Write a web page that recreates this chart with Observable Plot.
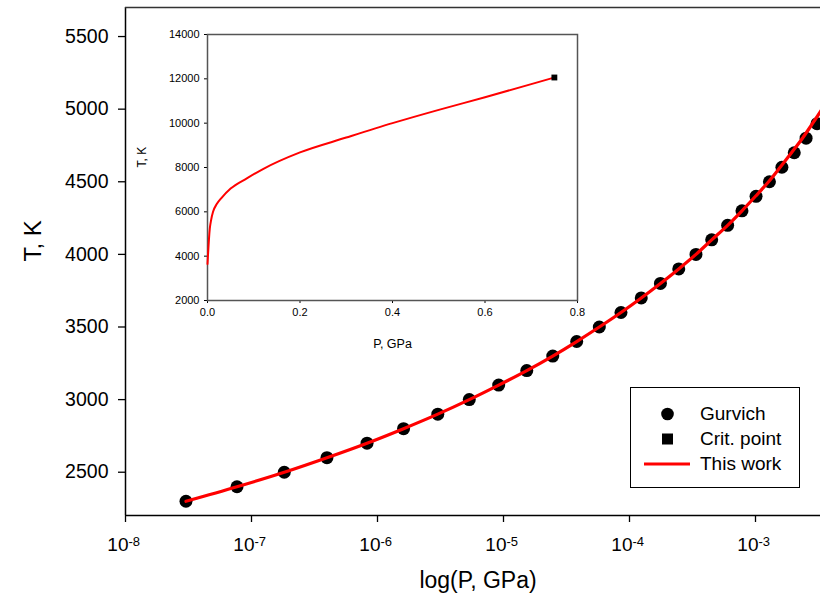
<!DOCTYPE html>
<html>
<head>
<meta charset="utf-8">
<script src="https://cdn.jsdelivr.net/npm/d3@7"></script>
<script src="https://cdn.jsdelivr.net/npm/@observablehq/plot@0.6"></script>
<style>
  html, body { margin: 0; padding: 0; background: #fff; }
  #wrap { position: relative; width: 820px; height: 602px; overflow: hidden; font-family: "Liberation Sans", Arial, sans-serif; }
  #wrap svg { position: absolute; }
  #legend { position: absolute; left: 630px; top: 387px; width: 170px; height: 101px; border: 1.5px solid #000; box-sizing: border-box; background: #fff; }
  .lg-item { position: absolute; left: 0; height: 24px; width: 170px; font-size: 19px; line-height: 24px; }
  .lg-item span { position: absolute; left: 69px; top: 0; white-space: nowrap; }
  .lg-item svg { position: absolute; left: 24px; top: 0; }
</style>
</head>
<body>
<div id="wrap"></div>
<script>
// ---- Main chart data (Gurvich points) ----
const gurvichP = [3.02e-8, 7.67e-8, 1.82e-7, 3.97e-7, 8.26e-7, 1.61e-6, 3.01e-6, 5.35e-6, 9.16e-6, 1.53e-5,
  2.46e-5, 3.81e-5, 5.76e-5, 8.56e-5, 1.24e-4, 1.76e-4, 2.46e-4, 3.37e-4, 4.49e-4, 6.01e-4,
  7.81e-4, 1.01e-3, 1.29e-3, 1.62e-3, 2.03e-3, 2.52e-3, 3.08e-3];
const gurvichT = [2300, 2400, 2500, 2600, 2700, 2800, 2900, 3000, 3100, 3200,
  3300, 3400, 3500, 3600, 3700, 3800, 3900, 4000, 4100, 4200,
  4300, 4400, 4500, 4600, 4700, 4800, 4900];

// ---- Main chart data (This work line) ----
const workP = [3.02e-8, 7.67e-8, 1.82e-7, 3.97e-7, 8.26e-7, 1.61e-6, 3.01e-6, 5.35e-6, 9.16e-6, 1.53e-5,
  2.46e-5, 3.81e-5, 5.76e-5, 8.56e-5, 1.24e-4, 1.76e-4, 2.46e-4, 3.37e-4, 4.49e-4, 6.01e-4,
  7.81e-4, 1.0e-3, 1.27e-3, 1.57e-3, 1.93e-3, 2.36e-3, 2.83e-3, 3.37e-3, 3.97e-3];
const workT = [2300, 2400, 2500, 2600, 2700, 2800, 2900, 3000, 3100, 3200,
  3300, 3400, 3500, 3600, 3700, 3800, 3900, 4000, 4100, 4200,
  4300, 4400, 4500, 4600, 4700, 4800, 4900, 5000, 5100];

// ---- Main axes ----
const xDomain = [1e-8, 3.28e-3];
const yDomain = [2202, 5700];
const xTicks = [1e-8, 1e-7, 1e-6, 1e-5, 1e-4, 1e-3];
const xTickBase = ["10", "10", "10", "10", "10", "10"];
const xTickExp = ["-8", "-7", "-6", "-5", "-4", "-3"];
const yTicks = [2500, 3000, 3500, 4000, 4500, 5000, 5500];
const xTitle = "log(P, GPa)";
const yTitle = "T, K";

// ---- Inset data ----
const insetP = [0, 0.005, 0.008, 0.012, 0.02, 0.03, 0.05, 0.085, 0.12, 0.2, 0.3, 0.4, 0.5, 0.6, 0.7, 0.75];
const insetT = [3650, 5250, 5650, 6000, 6350, 6620, 7050, 7510, 7930, 8680, 9350, 10000, 10600, 11170, 11760, 12060];
const critP = [0.75];
const critT = [12060];
const insetXTicks = [0, 0.2, 0.4, 0.6, 0.8];
const insetYTicks = [2000, 4000, 6000, 8000, 10000, 12000, 14000];
const insetXDomain = [0, 0.8];
const insetYDomain = [2000, 14000];
const insetXTitle = "P, GPa";
const insetYTitle = "T, K";

// ---- Legend ----
const legendLabels = ["Gurvich", "Crit. point", "This work"];
const legendSymbols = ["circle", "square", "line"];

const font = '"Liberation Sans", Arial, sans-serif';
const gurvich = gurvichP.map((p, i) => ({p, T: gurvichT[i]}));
const work = workP.map((p, i) => ({p, T: workT[i]}));
const inset = insetP.map((p, i) => ({p, T: insetT[i]}));
const crit = critP.map((p, i) => ({p, T: critT[i]}));
const xt = xTicks.map((v, i) => ({v, base: xTickBase[i], exp: xTickExp[i]}));

const main = Plot.plot({
  width: 820,
  height: 602,
  marginTop: 7,
  marginBottom: 87,
  marginLeft: 125,
  marginRight: 0,
  style: {fontFamily: font, fontSize: "19.5px", color: "#000", background: "transparent", overflow: "hidden"},
  x: {type: "log", domain: xDomain},
  y: {domain: yDomain},
  marks: [
    Plot.axisY({ticks: yTicks, tickSize: 7, tickPadding: 10, label: null, tickFormat: d3.format("d"), strokeWidth: 1.3}),
    Plot.axisX({ticks: xTicks, tickSize: 7, label: null, tickFormat: () => "", strokeWidth: 1.3}),
    Plot.text(xt, {x: "v", text: "base", frameAnchor: "bottom", textAnchor: "end", dx: 3, dy: 35, lineAnchor: "bottom", fontSize: 19}),
    Plot.text(xt, {x: "v", text: "exp", frameAnchor: "bottom", textAnchor: "start", dx: 3, dy: 30, lineAnchor: "bottom", fontSize: 13}),
    Plot.text([yTitle], {frameAnchor: "left", dx: -92, rotate: -90, fontSize: 24}),
    Plot.text([xTitle], {frameAnchor: "bottom", dx: 5, dy: 72, fontSize: 23}),
    Plot.ruleX([xDomain[0]], {stroke: "#000", strokeWidth: 1.5}),
    Plot.ruleY([yDomain[0]], {stroke: "#000", strokeWidth: 1.5}),
    Plot.ruleY([yDomain[1]], {stroke: "#333", strokeWidth: 1.5}),
    Plot.dot(gurvich, {x: "p", y: "T", r: 6.5, fill: "#000", stroke: "none", clip: true}),
    Plot.line(work, {x: "p", y: "T", stroke: "#ff0000", strokeWidth: 3.2, curve: "monotone-x", clip: true})
  ]
});
main.style.left = "0px";
main.style.top = "0px";

const insetPlot = Plot.plot({
  width: 457,
  height: 340,
  marginTop: 14,
  marginBottom: 60,
  marginLeft: 77,
  marginRight: 10,
  style: {fontFamily: font, fontSize: "11px", color: "#000", background: "transparent"},
  x: {domain: insetXDomain},
  y: {domain: insetYDomain},
  marks: [
    Plot.axisY({ticks: insetYTicks, tickSize: 3, tickPadding: 5, label: null, tickFormat: d3.format("d")}),
    Plot.axisX({ticks: insetXTicks, tickSize: 3, tickPadding: 5, label: null, tickFormat: d3.format(".1f")}),
    Plot.frame({stroke: "#555", strokeWidth: 1.5}),
    Plot.text([insetYTitle], {frameAnchor: "left", dx: -65, rotate: -90, fontSize: 12}),
    Plot.text([insetXTitle], {frameAnchor: "bottom", dy: 47, fontSize: 12.5}),
    Plot.line(inset, {x: "p", y: "T", stroke: "#ff0000", strokeWidth: 2, curve: "monotone-x"}),
    Plot.dot(crit, {x: "p", y: "T", symbol: "square", r: 3.3, fill: "#000", stroke: "none"})
  ]
});
insetPlot.style.left = "130px";
insetPlot.style.top = "20px";

const wrap = document.getElementById("wrap");
wrap.appendChild(main);
wrap.appendChild(insetPlot);

// Legend box
const legend = document.createElement("div");
legend.id = "legend";
const rowCenters = [26, 51, 75.5];
legendLabels.forEach((lab, i) => {
  const item = document.createElement("div");
  item.className = "lg-item";
  item.style.top = (rowCenters[i] - 12) + "px";
  const ns = "http://www.w3.org/2000/svg";
  const s = document.createElementNS(ns, "svg");
  s.setAttribute("width", "26"); s.setAttribute("height", "24");
  s.setAttribute("style", "left:" + (legendSymbols[i] === "line" ? "11px" : "24px"));
  let el;
  if (legendSymbols[i] === "circle") {
    el = document.createElementNS(ns, "circle");
    el.setAttribute("cx", "12.5"); el.setAttribute("cy", "12"); el.setAttribute("r", "6.3"); el.setAttribute("fill", "#000");
  } else if (legendSymbols[i] === "square") {
    el = document.createElementNS(ns, "rect");
    el.setAttribute("x", "7"); el.setAttribute("y", "6.5"); el.setAttribute("width", "11"); el.setAttribute("height", "11"); el.setAttribute("fill", "#000");
  } else {
    s.setAttribute("width", "50");
    el = document.createElementNS(ns, "line");
    el.setAttribute("x1", "2"); el.setAttribute("x2", "48"); el.setAttribute("y1", "12"); el.setAttribute("y2", "12");
    el.setAttribute("stroke", "#ff0000"); el.setAttribute("stroke-width", "3.2");
  }
  s.appendChild(el);
  item.appendChild(s);
  const t = document.createElement("span");
  t.textContent = lab;
  item.appendChild(t);
  legend.appendChild(item);
});
wrap.appendChild(legend);
</script>
</body>
</html>
